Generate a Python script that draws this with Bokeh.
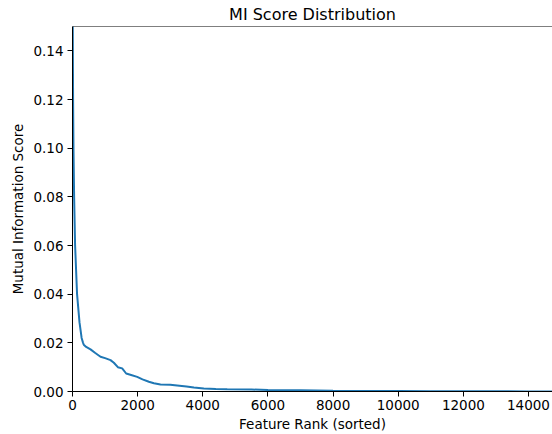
from bokeh.plotting import figure
from bokeh.models import Range1d, FixedTicker, PrintfTickFormatter, Span, Title
from bokeh.embed import file_html
from bokeh.resources import INLINE

# Data (feature rank vs. sorted MI score)
ranks = [0, 3, 8, 18, 30, 50, 80, 140, 215, 280, 320, 345, 420, 553, 700, 860,
         1000, 1167, 1270, 1392, 1525, 1648, 1800, 1986, 2150, 2345, 2500, 2702,
         3000, 3214, 3500, 3726, 4032, 4400, 4750, 5500, 6000, 7000, 8000, 9000,
         10000, 11000, 12000, 13000, 14000, 14736]
scores = [0.30, 0.20, 0.15, 0.12, 0.10, 0.08, 0.06, 0.04, 0.0284, 0.022, 0.0202,
          0.0192, 0.0183, 0.0173, 0.0158, 0.0143, 0.0137, 0.0129, 0.0118, 0.0100,
          0.0095, 0.0074, 0.0068, 0.0060, 0.0050, 0.0040, 0.0034, 0.0029, 0.0028,
          0.0025, 0.0021, 0.0016, 0.0012, 0.0010, 0.0009, 0.0008, 0.0006, 0.0005,
          0.0003, 0.00025, 0.0002, 0.00015, 0.0001, 0.00008, 0.00005, 0.00002]
x_ticks = [0, 2000, 4000, 6000, 8000, 10000, 12000, 14000]
y_ticks = [0.00, 0.02, 0.04, 0.06, 0.08, 0.10, 0.12, 0.14]
x_max = 14737
y_max = 0.15

FONT = "DejaVu Sans"

p = figure(width=552, height=434, output_backend="svg", toolbar_location=None,
           x_range=Range1d(0, x_max), y_range=Range1d(0, y_max),
           min_border_left=72, min_border_right=0, min_border_top=0,
           min_border_bottom=42)
p.title = Title(text="MI Score Distribution", align="center",
                text_font=FONT, text_font_size="16px", text_font_style="normal",
                text_color="black", offset=0, standoff=5)
p.background_fill_color = "white"
p.border_fill_color = "white"
p.outline_line_color = None
p.xgrid.visible = False
p.ygrid.visible = False

p.line(ranks, scores, line_color="#1f77b4", line_width=2)

# top spine
p.add_layout(Span(location=y_max, dimension="width", line_color="black", line_width=1))

for ax in (p.xaxis[0], p.yaxis[0]):
    ax.axis_line_color = "black"
    ax.axis_line_width = 1
    ax.major_tick_line_color = "black"
    ax.major_tick_out = 5
    ax.major_tick_in = 0
    ax.minor_tick_line_color = None
    ax.major_label_text_font = FONT
    ax.major_label_text_font_size = "13.5px"
    ax.major_label_text_color = "black"
    ax.axis_label_text_font = FONT
    ax.axis_label_text_font_size = "13.5px"
    ax.axis_label_text_font_style = "normal"
    ax.axis_label_text_color = "black"

p.xaxis[0].ticker = FixedTicker(ticks=x_ticks)
p.xaxis[0].formatter = PrintfTickFormatter(format="%d")
p.xaxis[0].axis_label = "Feature Rank (sorted)"
p.xaxis[0].major_label_standoff = 3
p.xaxis[0].axis_label_standoff = 3

p.yaxis[0].ticker = FixedTicker(ticks=y_ticks)
p.yaxis[0].formatter = PrintfTickFormatter(format="%.2f")
p.yaxis[0].axis_label = "Mutual Information Score"
p.yaxis[0].major_label_standoff = 4
p.yaxis[0].axis_label_standoff = 4

open("out.html", "w").write(file_html(p, INLINE))
